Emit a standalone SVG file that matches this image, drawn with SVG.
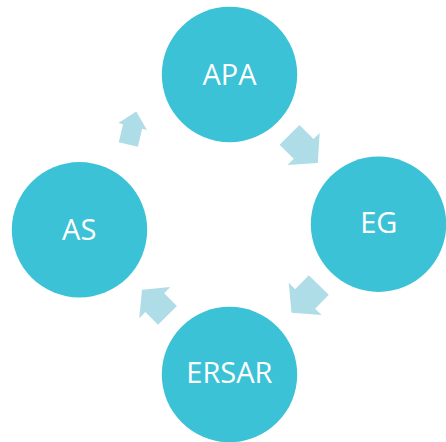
<svg xmlns="http://www.w3.org/2000/svg" width="446" height="442" viewBox="0 0 446 442">
  <style>
    .node { fill: #3cc2d6; }
    .label { fill: #ffffff; font-family: "Open Sans", "Liberation Sans", sans-serif; font-size: 29px; text-anchor: middle; }
    .arrow { fill: #afdde7; }
  </style>
  <rect width="446" height="442" fill="#ffffff"/>
  <g id="connectors">
    <polygon class="arrow" transform="translate(128.3,144.5) rotate(-76.5)" points="0,-9.8 18.5,-9.8 18.5,-14.7 34,0 18.5,14.7 18.5,9.8 0,9.8"/>
    <polygon class="arrow" transform="translate(289.5,134.8) rotate(45)" points="0,-14 20,-14 20,-22.7 40,0 20,22.7 20,14 0,14"/>
    <polygon class="arrow" transform="translate(318.8,285) rotate(134.4)" points="0,-14 19.5,-14 19.5,-23 39,0 19.5,23 19.5,14 0,14"/>
    <polygon class="arrow" transform="translate(167.5,315.3) rotate(225)" points="0,-13.3 18,-13.3 18,-22 36,0 18,22 18,13.3 0,13.3"/>
  </g>
  <g id="node-apa">
    <circle class="node" cx="229.5" cy="74.5" r="67.7"/>
    <text class="label" x="229.6" y="85">APA</text>
  </g>
  <g id="node-eg">
    <circle class="node" cx="378.5" cy="224.2" r="67.7"/>
    <text class="label" x="378.8" y="233.3">EG</text>
  </g>
  <g id="node-ersar">
    <circle class="node" cx="229.5" cy="374.5" r="67.7"/>
    <text class="label" x="229.4" y="383.3">ERSAR</text>
  </g>
  <g id="node-as">
    <circle class="node" cx="79.5" cy="229.8" r="67.7"/>
    <text class="label" x="79.2" y="240">AS</text>
  </g>
</svg>
